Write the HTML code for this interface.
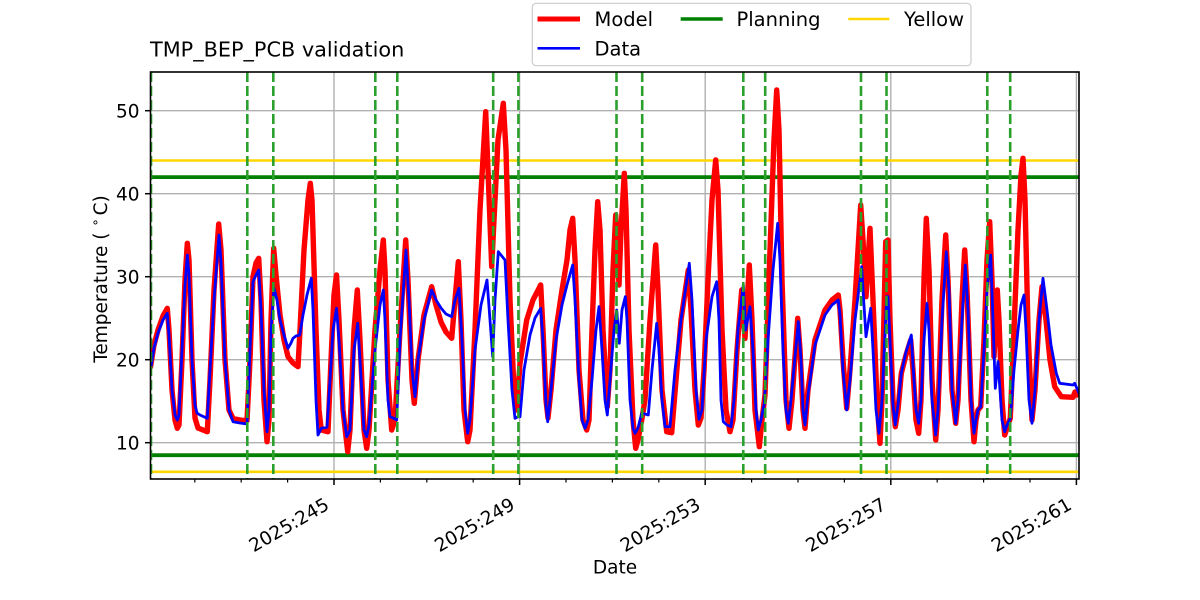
<!DOCTYPE html>
<html>
<head>
<meta charset="utf-8">
<style>
html,body{margin:0;padding:0;background:#fff;}
svg{display:block;}
text{font-family:"DejaVu Sans","Liberation Sans",sans-serif;fill:#000;}
</style>
</head>
<body>
<svg width="1200" height="600" viewBox="0 0 1200 600" xmlns="http://www.w3.org/2000/svg">
<defs>
<clipPath id="pa"><rect x="150.5" y="72" width="928.5" height="407"/></clipPath>
</defs>
<rect width="1200" height="600" fill="#fff"/>

<!-- grid -->
<g stroke="#b0b0b0" stroke-width="1.4" clip-path="url(#pa)">
<line x1="334" y1="72" x2="334" y2="479"/>
<line x1="519.6" y1="72" x2="519.6" y2="479"/>
<line x1="705.2" y1="72" x2="705.2" y2="479"/>
<line x1="890.8" y1="72" x2="890.8" y2="479"/>
<line x1="1076.4" y1="72" x2="1076.4" y2="479"/>
<line x1="150" y1="110.7" x2="1079" y2="110.7"/>
<line x1="150" y1="193.7" x2="1079" y2="193.7"/>
<line x1="150" y1="276.7" x2="1079" y2="276.7"/>
<line x1="150" y1="359.7" x2="1079" y2="359.7"/>
<line x1="150" y1="442.7" x2="1079" y2="442.7"/>
</g>

<!-- limit lines -->
<g clip-path="url(#pa)">
<line x1="150" y1="160.5" x2="1079" y2="160.5" stroke="#ffd700" stroke-width="2.6"/>
<line x1="150" y1="471.8" x2="1079" y2="471.8" stroke="#ffd700" stroke-width="2.6"/>
<line x1="150" y1="177.1" x2="1079" y2="177.1" stroke="#008000" stroke-width="3.8"/>
<line x1="150" y1="455.2" x2="1079" y2="455.2" stroke="#008000" stroke-width="3.8"/>
</g>

<!-- series -->
<g clip-path="url(#pa)" fill="none" stroke-linejoin="round" stroke-linecap="round">
<polyline stroke="#ff0000" stroke-width="5.4" points="150.5,367 154,345 158,330 163,316 167.3,308.3 169,330 172,390 175,420 177.3,428.3 179,425 182,360 185,280 187.3,243.3 189,260 192,360 195,418 198,428 203,430 207.3,431.7 210,380 214,290 218.7,224 221,250 225,360 229,410 233,418.5 240,420 247,420.7 250,360 253,276.7 256,263 258.7,258.3 261,300 264,400 267,441.7 269,420 271,320 273.7,248.3 276,275 280,315 284,340 288,356.7 293,363 298,366.7 300,330 304,250 308,200 310.3,183.3 312,200 316,330 319,410 321.3,430 328,431.7 331,360 334,295 336.5,275 339,320 343,410 347.7,451.7 350,430 354,330 357.3,290 360,340 364,430 366.7,448.3 369,430 375,330 380,270 383.3,240 385,270 388,380 391.7,430 395,420 400,330 405.7,240 408,280 412,380 414.3,403.3 418,360 424,315 431.7,286.7 436,305 441,322 446,332 451.7,338.3 455,300 458.3,261.7 461,320 464,410 467.7,441.7 470,430 475,330 480,210 485.7,111.7 488,170 491.7,266.7 494,220 498,140 503.3,103.3 506,150 510,300 514,390 516.7,410 520,363.3 526.7,320 533,300 540.7,285 543,330 546,400 548,418 551,390 556,330 562,290 567,260 570,230 572.7,218.3 575,260 579,370 583,420 586.7,430 589,420 592,330 595,250 597.7,201.7 600,230 603,330 607.3,406.7 610,370 613,270 615.7,215 617,240 619,285 621,230 624.3,173.3 626,210 629,330 633,420 635.7,448.3 638,440 641.7,420 645,400 650,320 655.7,245 658,290 662,390 666.7,431.7 671.7,432.7 676,380 681,320 688.3,270 691,310 695,390 698.3,425 701,418 704,370 708,280 712,200 715.7,160 718,190 722,330 726,410 730,431.7 733,420 737,350 741.7,290 745,338.3 749.3,265 752,320 755,410 759.3,446.7 762,420 765,395 770,250 774,140 776.7,90 779,130 782,280 786,400 789,428.3 792,400 797.7,318.3 800,350 803,410 805,428.3 808,390 815,340 825,310 832,300 838.3,295 840,310 843,360 846.7,408.3 850,370 855,300 860.7,205 863,240 866,296.7 870,228.3 873,300 877,400 880,443.3 882,400 885.7,241.7 888,240 890,320 893,400 895.3,426.7 898,410 901.3,373.3 906,355 910.7,340 913,370 916,420 918.7,433.3 921,400 924,280 926.3,218.3 929,270 932,380 935.7,440 938,410 942,300 945.7,235 948,280 952,390 955.7,423.3 958,400 962,300 964.7,250 967,290 971,400 974,441.7 976,420 978,410 980.7,406.7 984,340 987,260 989.7,221.7 992,280 994,356.7 997.3,290 999,320 1002,400 1004.7,435 1007,428 1010.3,418.3 1014,330 1018,230 1021,175 1023,158.3 1025,200 1028,330 1032,420 1035,390 1039,320 1042,286.7 1046,320 1050,360 1054.7,386.7 1061.3,396.7 1073,397.3 1075,392 1077,395 1079,393.3"/>
<polyline stroke="#0000ff" stroke-width="2.8" points="150.5,370 154,348 158,333 163,320 167.3,313.3 169,335 172,390 175,415 177.3,420 179,415 182,350 185,285 187.3,255 189,275 192,360 195,405 197,413 200,415 207.3,418.3 210,370 214,300 219,235 221,262 225,360 229,410 233,421.7 240,423 247,424 250,350 253,281.7 256,275 258.7,270 261,310 264,390 267,431.7 269,410 271,330 274,288.3 277,300 280,320 284,335 288,348.3 291,343 293,338.3 296,336 299.7,335 303,315 307,295 311.3,278.3 313,310 316,400 318,435 321.3,428.3 327,427.3 330,380 333,330 336.5,308.3 339,340 343,410 346.7,436.7 350,430 354,350 357.7,323.3 360,360 364,430 366.7,436.7 369,425 375,350 380,305 383.3,290 385,320 388,400 390,416.7 393,418 396.7,420 400,340 406,250 409,300 412,370 415,396.7 418,360 424,320 431.7,290 436,300 441,308 446,314 451.7,316.7 455,300 459,288.3 462,340 465,410 467.7,433.3 470,420 475,350 481,305 487,280 490,320 492.7,356.7 495,300 498.3,251.7 505,260 508,320 512,390 515,418.3 518.3,416.7 520,416.7 524,370 530,335 535,318 540.7,308.3 543,340 546,405 547.7,421.7 550,400 556,340 562,305 567,285 572.7,265 575,300 579,380 582,420 585,428.3 588,420 592,380 596,330 599,306.7 602,350 605,400 607.3,415 610,380 614,330 616.7,310 619.3,343.3 622,310 625.3,296.7 627,320 630,400 633,428 635,433.3 638,428 641.7,413.3 645,414 648.3,415 652,370 656.7,323.3 659,350 662,400 665,426.7 670,426.7 675,370 681,320 689.3,263.3 692,300 696,390 699,419.3 702,410 706,340 712,296.7 716.7,281.7 719,320 721,400 723.3,421.7 727,425 731,426.7 734,400 738,330 743.3,285 745.7,330 750,306.7 753,350 756,410 758.3,430 761,420 764.3,403.3 768,340 773,270 777.7,223.3 780,260 783,350 786,410 788.3,423.3 791,400 798.3,321.7 801,360 803,410 805,425 808,395 815,345 825,315 832,305 838.3,300 840,315 843,370 846.7,410 850,380 855,320 861.7,266.7 863,290 866,336.7 870.7,308.3 873,350 876,410 879,433.3 882,400 886.7,296.7 888,296.7 890,340 893,405 895.3,425 898,405 901.3,373.3 906,352 911.3,335 913,365 916,410 918.7,423.3 921,400 924,340 927,303.3 929,330 932,400 935.7,435 938,410 942,320 946.3,251.7 949,290 952,390 955.7,423.3 958,400 962,320 965.3,265 968,310 971,400 974,433.3 976,420 978,410 980.7,406.7 984,350 987,290 990.7,255 993,320 995.3,388.3 998,361.7 1000,390 1002,420 1004.7,431.7 1007,425 1010.3,418.3 1014,370 1018,330 1021,305 1024,295 1026,330 1029,400 1032,423.3 1035,390 1039,320 1043,278.3 1047,310 1051,345 1056.3,373.3 1059.7,383.3 1073,385 1074.7,383.3 1079.7,395"/>
</g>

<!-- vertical dashed -->
<g stroke="#2ca02c" stroke-width="2.6" stroke-dasharray="10,4" clip-path="url(#pa)">
<line x1="151" y1="72" x2="151" y2="479"/>
<line x1="247.3" y1="72" x2="247.3" y2="479"/>
<line x1="273.3" y1="72" x2="273.3" y2="479"/>
<line x1="375.3" y1="72" x2="375.3" y2="479"/>
<line x1="397.3" y1="72" x2="397.3" y2="479"/>
<line x1="493.2" y1="72" x2="493.2" y2="479"/>
<line x1="518.4" y1="72" x2="518.4" y2="479"/>
<line x1="616.5" y1="72" x2="616.5" y2="479"/>
<line x1="642.2" y1="72" x2="642.2" y2="479"/>
<line x1="743.3" y1="72" x2="743.3" y2="479"/>
<line x1="765.2" y1="72" x2="765.2" y2="479"/>
<line x1="861" y1="72" x2="861" y2="479"/>
<line x1="886.5" y1="72" x2="886.5" y2="479"/>
<line x1="987.3" y1="72" x2="987.3" y2="479"/>
<line x1="1010.2" y1="72" x2="1010.2" y2="479"/>
</g>

<!-- spines -->
<rect x="150.5" y="72" width="928.5" height="407" fill="none" stroke="#000" stroke-width="1.6"/>

<!-- ticks -->
<g stroke="#000" stroke-width="1.5">
<line x1="334" y1="479" x2="334" y2="485"/>
<line x1="519.6" y1="479" x2="519.6" y2="485"/>
<line x1="705.2" y1="479" x2="705.2" y2="485"/>
<line x1="890.8" y1="479" x2="890.8" y2="485"/>
<line x1="1076.4" y1="479" x2="1076.4" y2="485"/>
</g>
<g stroke="#000" stroke-width="1.2">
<line x1="194.8" y1="479" x2="194.8" y2="482.5"/>
<line x1="241.2" y1="479" x2="241.2" y2="482.5"/>
<line x1="287.6" y1="479" x2="287.6" y2="482.5"/>
<line x1="380.4" y1="479" x2="380.4" y2="482.5"/>
<line x1="426.8" y1="479" x2="426.8" y2="482.5"/>
<line x1="473.2" y1="479" x2="473.2" y2="482.5"/>
<line x1="566" y1="479" x2="566" y2="482.5"/>
<line x1="612.4" y1="479" x2="612.4" y2="482.5"/>
<line x1="658.8" y1="479" x2="658.8" y2="482.5"/>
<line x1="751.6" y1="479" x2="751.6" y2="482.5"/>
<line x1="798" y1="479" x2="798" y2="482.5"/>
<line x1="844.4" y1="479" x2="844.4" y2="482.5"/>
<line x1="937.2" y1="479" x2="937.2" y2="482.5"/>
<line x1="983.6" y1="479" x2="983.6" y2="482.5"/>
<line x1="1030" y1="479" x2="1030" y2="482.5"/>
</g>
<g stroke="#000" stroke-width="1.5">
<line x1="145" y1="110.7" x2="150" y2="110.7"/>
<line x1="145" y1="193.7" x2="150" y2="193.7"/>
<line x1="145" y1="276.7" x2="150" y2="276.7"/>
<line x1="145" y1="359.7" x2="150" y2="359.7"/>
<line x1="145" y1="442.7" x2="150" y2="442.7"/>
</g>

<!-- y tick labels -->
<g font-size="18.5" text-anchor="end">
<text x="139.5" y="117.4">50</text>
<text x="139.5" y="200.4">40</text>
<text x="139.5" y="283.4">30</text>
<text x="139.5" y="366.4">20</text>
<text x="139.5" y="449.4">10</text>
</g>

<!-- x tick labels -->
<g font-size="18.5" text-anchor="end">
<text transform="translate(330.5,508.2) rotate(-30)">2025:245</text>
<text transform="translate(516.1,508.2) rotate(-30)">2025:249</text>
<text transform="translate(701.7,508.2) rotate(-30)">2025:253</text>
<text transform="translate(887.3,508.2) rotate(-30)">2025:257</text>
<text transform="translate(1072.9,508.2) rotate(-30)">2025:261</text>
</g>

<!-- axis labels -->
<text x="615" y="573.5" font-size="18.5" text-anchor="middle">Date</text>
<text transform="translate(106.8,279) rotate(-90)" font-size="18.5" text-anchor="middle">Temperature (<tspan font-size="13" dy="-7.5" dx="6">∘</tspan><tspan dy="7.5" dx="3">C)</tspan></text>

<!-- title -->
<text x="150" y="56.7" font-size="20.8">TMP_BEP_PCB validation</text>

<!-- legend -->
<rect x="532.3" y="3.3" width="438.7" height="62.4" rx="4" ry="4" fill="#fff" fill-opacity="0.8" stroke="#cccccc" stroke-width="1.2"/>
<line x1="537.5" y1="19" x2="580" y2="19" stroke="#ff0000" stroke-width="5"/>
<line x1="680.7" y1="19" x2="722.7" y2="19" stroke="#008000" stroke-width="3.5"/>
<line x1="848.3" y1="19" x2="889.3" y2="19" stroke="#ffd700" stroke-width="2.6"/>
<line x1="537.5" y1="48.3" x2="580" y2="48.3" stroke="#0000ff" stroke-width="2.7"/>
<g font-size="19.5">
<text x="594.5" y="26">Model</text>
<text x="736.5" y="26">Planning</text>
<text x="904" y="26">Yellow</text>
<text x="594.5" y="55.3">Data</text>
</g>
</svg>
</body>
</html>
